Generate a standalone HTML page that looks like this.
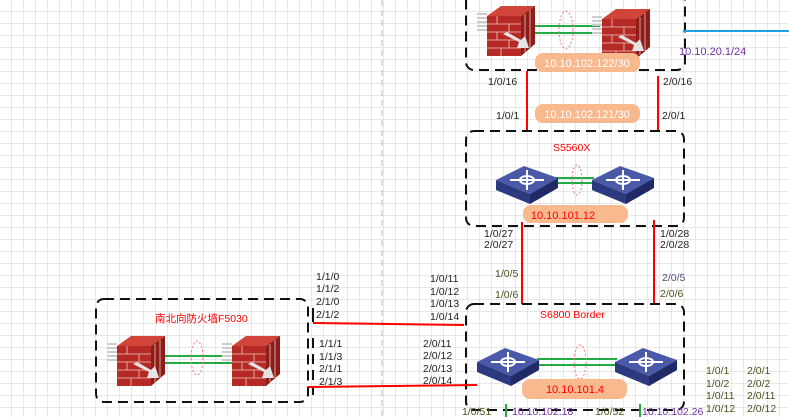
<!DOCTYPE html>
<html><head><meta charset="utf-8"><style>
html,body{margin:0;padding:0;background:#fff}
svg{display:block}
text{font-family:"Liberation Sans","Noto Sans CJK SC",sans-serif;font-size:10.5px}
.k{fill:#222}
.p{fill:#7030a0}
.o{fill:#4f4f1f}
.r{fill:#f00}
.pt{fill:#fff;font-size:11px}
</style></head><body>
<svg width="789" height="417" viewBox="0 0 789 417" xmlns="http://www.w3.org/2000/svg">
<defs>
<pattern id="g" width="12" height="12" patternUnits="userSpaceOnUse">
<path d="M12 0V12H0" fill="none" stroke="#d2d2d2" stroke-width="1"/>
</pattern>
<g id="fw">
<path d="M-10 12 l10 0 M-10 16 l10 0 M-10 20 l10 0 M-10 24 l10 0 M-10 28 l10 0" stroke="#ccc" stroke-width="2"/>
<polygon points="0,14 14,4 48,4 34,14" fill="#d0443a"/>
<polygon points="34,14 48,4 48,42 34,54" fill="#8e1d1a"/>
<rect x="0" y="14" width="34" height="40" fill="#b52a25"/>
<path d="M0 22H34M0 30H34M0 38H34M0 46H34M10 14V22M22 22V30M10 30V38M22 38V46M14 46V54M38 12V50M43 8V46" stroke="#f3c5c0" stroke-width="0.8"/>
<polygon points="16,32 32,40 30,46 42,46 38,34 34,38 20,30" fill="#e4e4e4"/>
</g>
<g id="sw">
<polygon points="0,22 28,8 62,20 34,36" fill="#4a5aa8"/>
<polygon points="0,22 34,36 34,46 0,32" fill="#2d3a80"/>
<polygon points="34,36 62,20 62,30 34,46" fill="#202a66"/>
<ellipse cx="31" cy="22" rx="7" ry="4" fill="none" stroke="#fff" stroke-width="2"/>
<path d="M14 22H48M31 12V32" stroke="#fff" stroke-width="2"/>
</g>
</defs>
<rect width="789" height="417" fill="url(#g)"/>
<line x1="382" y1="0" x2="382" y2="417" stroke="#bbb" stroke-dasharray="6,4"/>

<!-- top box -->
<rect x="466" y="-10" width="219" height="80" rx="8" fill="none" stroke="#111" stroke-width="2" stroke-dasharray="10,6"/>
<line x1="533" y1="26" x2="600" y2="26" stroke="#22aa44" stroke-width="2"/>
<line x1="533" y1="33" x2="600" y2="33" stroke="#22aa44" stroke-width="2"/>
<use href="#fw" x="487" y="2"/>
<use href="#fw" x="602" y="5"/>
<ellipse cx="566" cy="30" rx="7" ry="19" fill="none" stroke="#f77" stroke-dasharray="2,2"/>
<rect x="535" y="53" width="105" height="19" rx="8" fill="#f9b98f"/>
<text x="587" y="67" text-anchor="middle" class="pt">10.10.102.122/30</text>
<line x1="683" y1="31" x2="789" y2="31" stroke="#1ea0e0" stroke-width="2"/>
<text x="679" y="55" class="p" style="font-size:11px">10.10.20.1/24</text>

<line x1="527" y1="71" x2="527" y2="131" stroke="#f00" stroke-width="2"/>
<line x1="658" y1="76" x2="658" y2="131" stroke="#f00" stroke-width="2"/>
<text x="488" y="85" class="k">1/0/16</text>
<text x="663" y="85" class="k">2/0/16</text>
<text x="496" y="119" class="k">1/0/1</text>
<text x="662" y="119" class="k">2/0/1</text>
<rect x="535" y="104" width="105" height="19" rx="8" fill="#f9b98f"/>
<text x="587" y="118" text-anchor="middle" class="pt">10.10.102.121/30</text>

<!-- middle box -->
<rect x="466" y="131" width="218" height="95" rx="8" fill="none" stroke="#111" stroke-width="2" stroke-dasharray="10,6"/>
<text x="553" y="151" class="r">S5560X</text>
<line x1="556" y1="178" x2="594" y2="178" stroke="#22aa44" stroke-width="2"/>
<line x1="556" y1="183" x2="594" y2="183" stroke="#22aa44" stroke-width="2"/>
<use href="#sw" x="496" y="158"/>
<use href="#sw" x="592" y="158"/>
<ellipse cx="577" cy="180" rx="5" ry="15" fill="none" stroke="#f77" stroke-dasharray="2,2"/>
<rect x="523" y="205" width="105" height="18" rx="8" fill="#f9b98f"/>
<text x="563" y="219" text-anchor="middle" class="r" style="font-size:11px">10.10.101.12</text>

<line x1="522" y1="222" x2="522" y2="304" stroke="#f00" stroke-width="2"/>
<line x1="654" y1="220" x2="654" y2="304" stroke="#f00" stroke-width="2"/>
<text x="484" y="237" class="k">1/0/27</text>
<text x="484" y="248" class="k">2/0/27</text>
<text x="660" y="237" class="k">1/0/28</text>
<text x="660" y="248" class="k">2/0/28</text>
<text x="495" y="277" class="o">1/0/5</text>
<text x="495" y="298" class="o">1/0/6</text>
<text x="662" y="281" style="fill:#5a4a7a">2/0/5</text>
<text x="660" y="297" class="o">2/0/6</text>

<!-- bottom box -->
<rect x="466" y="304" width="218" height="106" rx="8" fill="none" stroke="#111" stroke-width="2" stroke-dasharray="10,6"/>
<text x="540" y="318" class="r">S6800 Border</text>
<line x1="537" y1="359" x2="617" y2="359" stroke="#22aa44" stroke-width="2"/>
<line x1="537" y1="365" x2="617" y2="365" stroke="#22aa44" stroke-width="2"/>
<use href="#sw" x="477" y="340"/>
<use href="#sw" x="615" y="340"/>
<ellipse cx="580" cy="362" rx="6" ry="17" fill="none" stroke="#f77" stroke-dasharray="2,2"/>
<rect x="522" y="379" width="105" height="20" rx="8" fill="#f9b98f"/>
<text x="575" y="393" text-anchor="middle" class="r" style="font-size:11px">10.10.101.4</text>
<line x1="506" y1="404" x2="506" y2="417" stroke="#22aa44" stroke-width="2"/>
<line x1="640" y1="404" x2="640" y2="417" stroke="#22aa44" stroke-width="2"/>
<text x="462" y="415" class="o">1/0/51</text>
<text x="512" y="415" class="p">10.10.102.18</text>
<text x="595" y="415" class="o">1/0/52</text>
<text x="642" y="415" class="p">10.10.102.26</text>
<text x="706" y="374" class="o">1/0/1</text><text x="747" y="374" class="o">2/0/1</text>
<text x="706" y="387" class="o">1/0/2</text><text x="747" y="387" class="o">2/0/2</text>
<text x="706" y="399" class="o">1/0/11</text><text x="747" y="399" class="o">2/0/11</text>
<text x="706" y="412" class="o">1/0/12</text><text x="747" y="412" class="o">2/0/12</text>

<!-- left box -->
<rect x="96" y="299" width="212" height="103" rx="8" fill="none" stroke="#111" stroke-width="2" stroke-dasharray="10,6"/>
<text x="155" y="322" class="r">南北向防火墙F5030</text>
<line x1="163" y1="356" x2="236" y2="356" stroke="#22aa44" stroke-width="2"/>
<line x1="163" y1="363" x2="236" y2="363" stroke="#22aa44" stroke-width="2"/>
<use href="#fw" x="117" y="332"/>
<use href="#fw" x="232" y="332"/>
<ellipse cx="197" cy="358" rx="6" ry="17" fill="none" stroke="#f77" stroke-dasharray="2,2"/>
<line x1="313" y1="308" x2="313" y2="322" stroke="#111" stroke-width="2"/>
<line x1="313" y1="338" x2="313" y2="395" stroke="#111" stroke-width="2" stroke-dasharray="10,6"/>
<text x="316" y="280" class="k">1/1/0</text>
<text x="316" y="292" class="k">1/1/2</text>
<text x="316" y="305" class="k">2/1/0</text>
<text x="316" y="318" class="k">2/1/2</text>
<line x1="313" y1="323" x2="464" y2="325" stroke="#f00" stroke-width="2"/>
<text x="430" y="282" class="k">1/0/11</text>
<text x="430" y="295" class="k">1/0/12</text>
<text x="430" y="307" class="k">1/0/13</text>
<text x="430" y="320" class="k">1/0/14</text>
<text x="319" y="347" class="k">1/1/1</text>
<text x="319" y="360" class="k">1/1/3</text>
<text x="319" y="372" class="k">2/1/1</text>
<text x="319" y="385" class="k">2/1/3</text>
<text x="423" y="347" class="k">2/0/11</text>
<text x="423" y="359" class="k">2/0/12</text>
<text x="423" y="372" class="k">2/0/13</text>
<text x="423" y="384" class="k">2/0/14</text>
<line x1="308" y1="387" x2="477" y2="385" stroke="#f00" stroke-width="2"/>
</svg>
</body></html>
